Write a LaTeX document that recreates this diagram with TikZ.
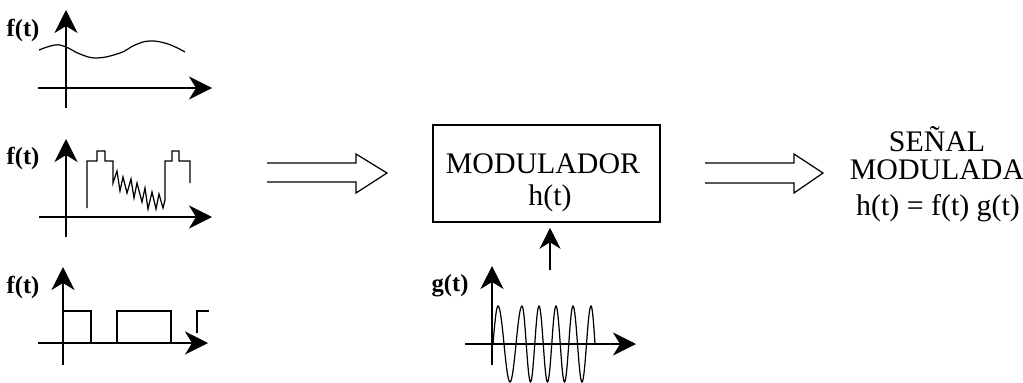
\documentclass[tikz,border=0pt]{standalone}
\usepackage{fontspec}
\setmainfont{Liberation Serif}
\usetikzlibrary{arrows.meta}

\begin{document}
\begin{tikzpicture}[x=0.02cm,y=-0.02cm,
  axis/.style={line width=0.7pt,-{Stealth[length=0.46cm,width=0.46cm,inset=0.14cm]}},
  signal/.style={line width=0.7pt,line join=miter},
  flabel/.style={font=\fontsize{14}{16}\selectfont\bfseries},
  bigtext/.style={font=\fontsize{17}{20}\selectfont,anchor=base}]
\useasboundingbox (0,0) rectangle (1023,382);

% First signal: slow wave
\node[flabel] (f1) at (23,30) {f(t)};
\draw[axis] (66,108) -- (66,10);
\draw[axis] (38,88) -- (212,88);
\draw[signal] plot[smooth,tension=0.7] coordinates {(39,50) (55,45) (66,47) (80,54) (97,58) (120,53) (135,45) (150,41) (168,44) (185,52)};

% Second signal: pulses with sawtooth
\node[flabel] (f2) at (23,158) {f(t)};
\draw[axis] (66,237) -- (66,139);
\draw[axis] (39,217) -- (212,217);
\draw[signal] (87,208) -- (87,161) -- (97,161) -- (97,151) -- (105,151) -- (105,161) -- (113,161)
  -- (113,183) -- (117,171) -- (120,191) -- (123,177) -- (127,193) -- (131,179)
  -- (134,198) -- (137,183) -- (142,202) -- (145,188) -- (148,209) -- (152,192)
  -- (156,209) -- (159,194) -- (163,208) -- (165,200) -- (165,161)
  -- (172,161) -- (172,151) -- (179,151) -- (179,161) -- (190,161) -- (190,183);

% Third signal: square wave
\node[flabel] (f3) at (23,287) {f(t)};
\draw[axis] (63,365) -- (63,267);
\draw[axis] (38,343) -- (208,343);
\draw[signal] (64,311) -- (91,311) -- (91,343);
\draw[signal] (117,343) -- (117,311) -- (171,311) -- (171,343);
\draw[signal] (197,333) -- (197,311) -- (209,311);

% Hollow arrow into the modulator
\draw[signal] (267,163) -- (356,163) -- (356,154) -- (387,173) -- (356,193) -- (356,182) -- (267,182);

% Modulator block
\node[draw,line width=0.9pt,minimum width=4.54cm,minimum height=1.94cm] (mod) at (546.5,173.5) {};
\node[bigtext] (modname) at (543,173) {MODULADOR};
\node[bigtext] (modh) at (550,205) {h(t)};

% Carrier g(t)
\node[flabel] (g) at (450,286) {g(t)};
\draw[axis] (492,365) -- (492,266);
\draw[axis] (465,344) -- (636,344);
\draw[signal] (493,344) sin (498,306) cos (504,344) sin (510,382) cos (516,344)
  sin (522,306) cos (526.25,344) sin (530.5,382) cos (534.75,344)
  sin (539,306) cos (543.25,344) sin (547.5,382) cos (551.75,344)
  sin (556,306) cos (560.25,344) sin (564.5,382) cos (568.75,344)
  sin (573,306) cos (577.5,344) sin (582,382) cos (586.5,344)
  sin (591,306) cos (595,344);
\coordinate (gfoot) at (550,270);
\draw[line width=0.7pt,-{Stealth[length=0.42cm,width=0.42cm,inset=0.13cm]},shorten >=0.1cm] (gfoot) -- (gfoot |- mod.south);

% Hollow arrow out of the modulator
\draw[signal] (705,163) -- (794,163) -- (794,154) -- (823,173) -- (794,193) -- (794,183) -- (705,183);

% Modulated signal
\node[bigtext] (out1) at (937,151) {SEÑAL};
\node[bigtext] (out2) at (937,179) {MODULADA};
\node[bigtext] (out3) at (938,215) {h(t) = f(t) g(t)};
\end{tikzpicture}
\end{document}
